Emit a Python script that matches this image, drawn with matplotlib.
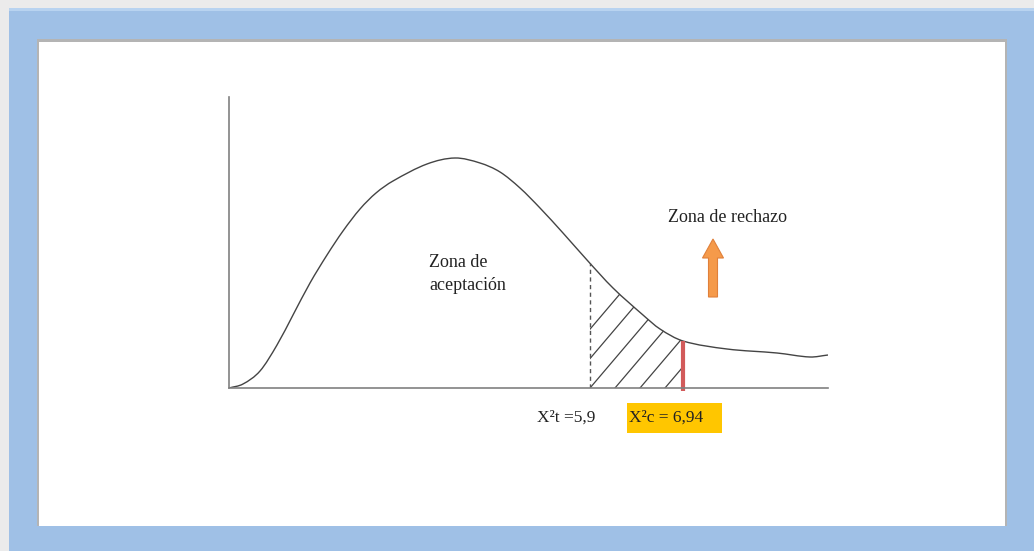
import numpy as np
import matplotlib
matplotlib.use('Agg')
import matplotlib.pyplot as plt
from matplotlib.patches import Rectangle, PathPatch
from matplotlib.path import Path

plt.rcParams['font.family'] = ['Liberation Serif', 'DejaVu Serif']

# curve (arbitrary units, origin at the axes corner)
curve_x = [0.0, 0.14, 0.31, 0.48, 0.64, 0.81, 0.98, 1.14, 1.31, 1.47, 1.64, 1.98, 2.26,
           2.51, 2.71, 2.91, 3.11, 3.34, 3.58, 3.84, 4.14, 4.31, 4.54, 4.98, 5.48, 5.81,
           5.99]
curve_y = [0.0, 0.04, 0.17, 0.43, 0.73, 1.05, 1.33, 1.57, 1.79, 1.95, 2.07, 2.24, 2.30,
           2.25, 2.16, 2.00, 1.80, 1.55, 1.28, 1.00, 0.73, 0.59, 0.47, 0.39, 0.35, 0.31,
           0.33]
x_table = 3.61      # X²t = 5,9
x_calc = 4.54       # X²c = 6,94
label_t = 'X²t =5,9'
label_c = 'X²c = 6,94'


def smooth_path(xs, ys):
    # hermite curve through the points (slopes from neighbours), as cubic beziers
    xs = np.asarray(xs, float)
    ys = np.asarray(ys, float)
    n = len(xs)
    m = np.empty(n)
    m[0] = (ys[1] - ys[0]) / (xs[1] - xs[0])
    m[-1] = (ys[-1] - ys[-2]) / (xs[-1] - xs[-2])
    m[1:-1] = (ys[2:] - ys[:-2]) / (xs[2:] - xs[:-2])
    verts = [(xs[0], ys[0])]
    codes = [Path.MOVETO]
    for i in range(n - 1):
        h = xs[i + 1] - xs[i]
        verts += [(xs[i] + h / 3, ys[i] + m[i] * h / 3),
                  (xs[i + 1] - h / 3, ys[i + 1] - m[i + 1] * h / 3),
                  (xs[i + 1], ys[i + 1])]
        codes += [Path.CURVE4] * 3
    return Path(verts, codes)


W, H = 1034, 551
fig = plt.figure(figsize=(W / 100, H / 100), dpi=100, facecolor='#ebebeb')

# frame drawn in pixel coordinates
bg = fig.add_axes([0, 0, 1, 1])
bg.set_xlim(0, W)
bg.set_ylim(H, 0)
bg.axis('off')
bg.add_patch(Rectangle((9, 8), W - 9, H - 8, facecolor='#9fc0e6', edgecolor='none'))
bg.add_patch(Rectangle((9, 8), W - 9, 3, facecolor='#b8d3f0', edgecolor='none'))
bg.add_patch(Rectangle((37, 39), 970, 487, facecolor='#b4b4b4', edgecolor='none'))
bg.add_patch(Rectangle((39, 42), 966, 484, facecolor='white', edgecolor='none'))

# chart axes placed on the pixel grid
x0, y0, x1, y1 = 229, 388, 828, 97
ax = fig.add_axes([x0 / W, (H - y0) / H, (x1 - x0) / W, (y0 - y1) / H])
ax.set_xlim(0, (x1 - x0) / 100)
ax.set_ylim(0, (y0 - y1) / 100)
ax.patch.set_alpha(0)
for s in ['top', 'right']:
    ax.spines[s].set_visible(False)
for s in ['left', 'bottom']:
    ax.spines[s].set_color('#808080')
    ax.spines[s].set_linewidth(1.2)
ax.set_xticks([])
ax.set_yticks([])

ax.add_patch(PathPatch(smooth_path(curve_x, curve_y), facecolor='none',
                       edgecolor='#444444', lw=1.0))

# hatched rejection band between X²t and X²c
yt = np.interp(x_table, curve_x, curve_y)
yc = np.interp(x_calc, curve_x, curve_y)
band_x = [x_table] + [v for v in curve_x if x_table < v < x_calc] + [x_calc]
band_y = [yt] + [v for x, v in zip(curve_x, curve_y) if x_table < x < x_calc] + [yc]
poly = ax.fill_between(band_x, 0, band_y, facecolor='none', lw=0)
for k in range(-2, 4):
    b = x_table + 0.25 * k
    ln, = ax.plot([b, b + 0.85 * 3], [0, 3], color='#444444', lw=0.9)
    ln.set_clip_path(poly.get_paths()[0], ax.transData)

ax.plot([x_table, x_table], [0, yt], color='#555555', lw=1.0, ls=(0, (3, 2.5)))
ax.plot([x_calc, x_calc], [-0.03, yc], color='#d25a5a', lw=3.0, clip_on=False,
        solid_capstyle='butt')

# texts
ax.text(2.0, 1.14, 'Zona de\naceptación', fontsize=13, color='#222222',
        ha='left', va='center', linespacing=1.45)
ax.text(4.98, 1.71, 'Zona de rechazo', fontsize=13, color='#222222',
        ha='center', va='center')
ax.arrow(4.84, 0.91, 0, 0.39, width=0.09, head_width=0.21, head_length=0.19,
         facecolor='#f59a4a', edgecolor='#e0803a', lw=0.8, length_includes_head=False)
ax.text(3.37, -0.30, label_t, fontsize=12.5, color='#222222', ha='center', va='center',
        clip_on=False)
ax.add_patch(Rectangle((3.98, -0.45), 0.95, 0.30, facecolor='#ffc600', edgecolor='none',
                       clip_on=False))
ax.text(4.00, -0.30, label_c, fontsize=12.5, color='#222222', ha='left', va='center',
        clip_on=False)

fig.savefig('out.png', dpi=100, facecolor=fig.get_facecolor())
